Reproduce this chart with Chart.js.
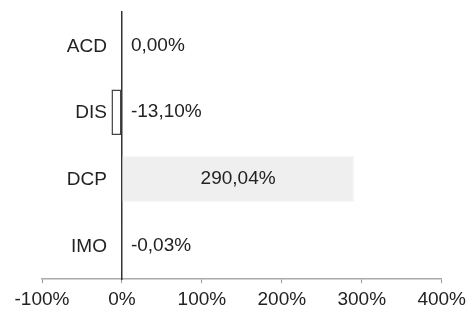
<!DOCTYPE html>
<html>
<head>
<meta charset="utf-8">
<script src="https://cdn.jsdelivr.net/npm/chart.js@4"></script>
<style>
  html, body { margin: 0; padding: 0; background: #fff; }
  #wrap { width: 471px; height: 316px; }
</style>
</head>
<body>
<div id="wrap"><canvas id="myChart"></canvas></div>
<script>
const categories = ["ACD", "DIS", "DCP", "IMO"];
const values = [0, -13.10, 290.04, -0.03];
const xTicks = [-100, 0, 100, 200, 300, 400];

const fontFam = "'Liberation Sans', Arial, sans-serif";

function pct(v) {
  return v.toFixed(2).replace(".", ",") + "%";
}

// etiquetas de categoria (a la izquierda del eje en 0) y de valor
const labelsPlugin = {
  id: "labelsPlugin",
  afterDatasetsDraw(chart) {
    const ctx = chart.ctx;
    const meta = chart.getDatasetMeta(0);
    const yScale = chart.scales.y;
    const zero = chart.scales.x.getPixelForValue(0);
    ctx.save();
    ctx.font = "19px " + fontFam;
    ctx.fillStyle = "#222";
    ctx.textBaseline = "middle";

    categories.forEach((c, i) => {
      ctx.textAlign = "right";
      ctx.fillText(c, zero - 15, yScale.getPixelForValue(i) + 1);
    });

    meta.data.forEach((bar, i) => {
      const txt = pct(values[i]);
      const w = ctx.measureText(txt).width;
      if (Math.abs(bar.x - bar.base) > w + 20) {
        ctx.textAlign = "center";
        ctx.fillText(txt, (bar.x + bar.base) / 2, bar.y);
      } else {
        ctx.textAlign = "left";
        ctx.fillText(txt, zero + 9, bar.y);
      }
    });
    ctx.restore();
  },
};

const ctx = document.getElementById("myChart");
new Chart(ctx, {
  type: "bar",
  data: {
    labels: categories,
    datasets: [
      {
        data: values,
        backgroundColor: ["#ffffff", "#ffffff", "#efefef", "#ffffff"],
        borderColor: ["#444", "#444", "#efefef", "#444"],
        borderWidth: 1.5,
        borderSkipped: false,
        barPercentage: 0.68,
        categoryPercentage: 1,
      },
    ],
  },
  options: {
    indexAxis: "y",
    responsive: true,
    maintainAspectRatio: false,
    animation: false,
    layout: { padding: { top: 12, left: 42, right: 28, bottom: 0 } },
    plugins: {
      legend: { display: false },
      tooltip: { enabled: false },
    },
    scales: {
      x: {
        min: -100,
        max: 400,
        afterBuildTicks: (axis) => {
          axis.ticks = xTicks.map((v) => ({ value: v }));
        },
        grid: { drawOnChartArea: false, tickLength: 4, color: "#999" },
        border: { display: true, color: "#aaa", width: 1.5 },
        ticks: {
          padding: 5,
          color: "#222",
          font: { family: fontFam, size: 19 },
          callback: (v) => v + "%",
        },
      },
      y: {
        position: { x: 0 },
        grid: { display: false },
        border: { display: true, color: "#333", width: 1.5 },
        ticks: { display: false },
      },
    },
  },
  plugins: [labelsPlugin],
});
</script>
</body>
</html>
